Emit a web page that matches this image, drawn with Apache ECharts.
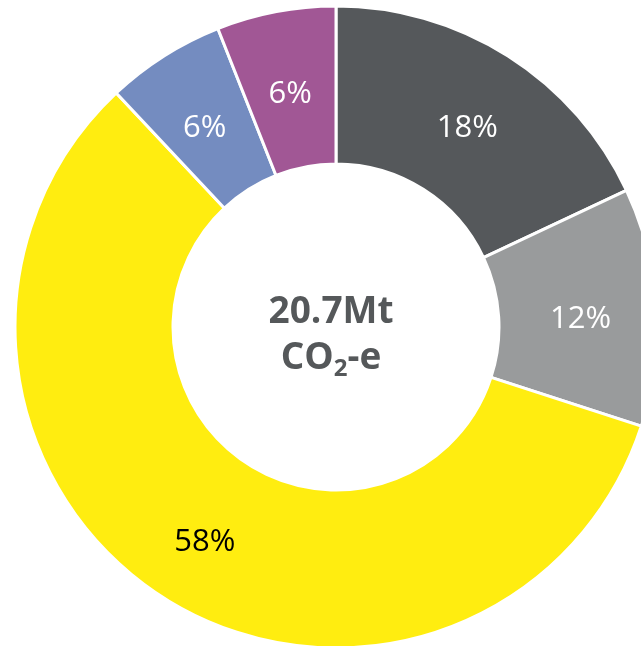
<!DOCTYPE html>
<html>
<head>
<meta charset="utf-8">
<script src="https://cdn.jsdelivr.net/npm/echarts@6/dist/echarts.min.js"></script>
<style>html,body{margin:0;padding:0;background:#fff;}#chart{width:641px;height:646px;}</style>
</head>
<body>
<div id="chart"></div>
<script>
var categories = ['A', 'B', 'C', 'D', 'E'];
var shares = [18, 12, 58, 6, 6];
var colors = ['#55585b', '#999b9c', '#ffed10', '#748cc0', '#a15795'];
var labelColors = ['#ffffff', '#ffffff', '#000000', '#ffffff', '#ffffff'];

var chart = echarts.init(document.getElementById('chart'));
var data = categories.map(function (c, i) {
  return {
    name: c,
    value: shares[i],
    itemStyle: { color: colors[i] },
    label: { color: labelColors[i] }
  };
});
chart.setOption({
  animation: false,
  series: [{
    type: 'pie',
    center: [336, 327],
    radius: [163, 321],
    startAngle: 90,
    clockwise: true,
    data: data,
    itemStyle: { borderColor: '#ffffff', borderWidth: 3 },
    label: {
      show: true,
      position: 'inside',
      formatter: '{c}%',
      fontFamily: 'Open Sans',
      fontSize: 31,
      fontWeight: 'normal',
      offset: [0, 8]
    },
    labelLine: { show: false },
    emphasis: { disabled: true }
  }],
  graphic: [{
    type: 'text',
    style: {
      x: 331, y: 335,
      text: '{a|20.7Mt}\n{a|CO}{s|2}{a|-e}',
      align: 'center',
      verticalAlign: 'middle',
      rich: {
        a: { fontFamily: 'Open Sans', fontWeight: 'bold', fontSize: 37, fill: '#55585a', lineHeight: 46 },
        s: { fontFamily: 'Open Sans', fontWeight: 'bold', fontSize: 24, fill: '#55585a', padding: [22, 0, 0, 0], lineHeight: 46 }
      }
    }
  }]
});
</script>
</body>
</html>
